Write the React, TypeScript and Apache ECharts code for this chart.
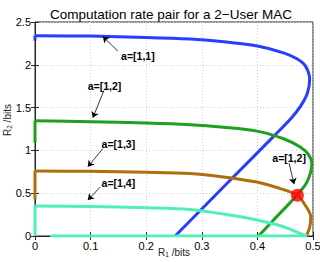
import React, { useEffect, useRef } from "react";
import * as echarts from "echarts";

// Curve a=[1,1] (blue)
const blueStubR1 = [0, 0];
const blueStubR2 = [2.28, 2.34];
const blueR1 = [0, 0.1, 0.2, 0.28, 0.34, 0.4, 0.447, 0.471, 0.486, 0.494, 0.49, 0.478, 0.46, 0.43, 0.35, 0.252];
const blueR2 = [2.34, 2.335, 2.32, 2.3, 2.27, 2.22, 2.14, 2.07, 1.99, 1.83, 1.67, 1.52, 1.37, 1.17, 0.645, 0];

// Curve a=[1,2] (green)
const greenStubR1 = [0, 0];
const greenStubR2 = [1.09, 1.345];
const greenR1 = [0, 0.1, 0.2, 0.279, 0.339, 0.399, 0.447, 0.477, 0.492, 0.498, 0.489, 0.471, 0.429, 0.402];
const greenR2 = [1.345, 1.335, 1.32, 1.3, 1.27, 1.225, 1.136, 1.04, 0.95, 0.845, 0.63, 0.477, 0.186, 0];

// Curve a=[1,3] (brown)
const brownStubR1 = [0, 0];
const brownStubR2 = [0.43, 0.76];
const brownR1 = [0, 0.1, 0.2, 0.279, 0.339, 0.399, 0.435, 0.472, 0.486, 0.496, 0.494, 0.488];
const brownR2 = [0.76, 0.755, 0.745, 0.73, 0.69, 0.63, 0.566, 0.477, 0.36, 0.225, 0.1, 0];

// Curve a=[1,4] (aquamarine)
const aquaStubR1 = [0, 0];
const aquaStubR2 = [0, 0.35];
const aquaR1 = [0, 0.1, 0.2, 0.279, 0.339, 0.399, 0.447, 0.477, 0.489];
const aquaR2 = [0.35, 0.345, 0.33, 0.31, 0.256, 0.186, 0.108, 0.03, 0];
const aquaBaseR1 = [0.027, 0.489];
const aquaBaseR2 = [0, 0];

// Highlighted point
const pointR1 = [0.472];
const pointR2 = [0.477];

// Annotations
const annoTexts = ["a=[1,1]", "a=[1,2]", "a=[1,3]", "a=[1,4]", "a=[1,2]"];
const annoTextR1 = [0.185, 0.125, 0.15, 0.15, 0.457];
const annoTextR2 = [2.1, 1.756, 1.08, 0.616, 0.913];
const arrowFromR1 = [0.149, 0.124, 0.122, 0.117, 0.457];
const arrowFromR2 = [2.16, 1.7, 1.02, 0.57, 0.85];
const arrowToR1 = [0.122, 0.104, 0.095, 0.095, 0.466];
const arrowToR2 = [2.33, 1.38, 0.81, 0.42, 0.605];

const xTicks = { min: 0, max: 0.5, interval: 0.1 };
const yTicks = { min: 0, max: 2.5, interval: 0.5 };

const pairs = (a: number[], b: number[]) => a.map((v, i) => [v, b[i]]);

const FONT = "'Liberation Sans', Arial, Helvetica, sans-serif";

export default function App() {
  const ref = useRef<HTMLDivElement>(null);
  useEffect(() => {
    if (!ref.current) return;
    const chart = echarts.init(ref.current, undefined, { renderer: "svg" });
    const axisLine = { show: true, lineStyle: { color: "#262626", width: 1 } };
    const tick = { show: true, inside: true, length: 4, lineStyle: { color: "#262626" } };
    const split = { show: true, lineStyle: { color: "#d0d0d0", type: [1, 2] as any, width: 1 } };
    const label = { fontFamily: FONT, fontSize: 11, color: "#000", margin: 4 };
    const curve = (data: number[][], color: string, smooth: number | boolean) => ({
      type: "line",
      data,
      smooth,
      symbol: "none",
      lineStyle: { color, width: 3 },
      itemStyle: { color },
      silent: true,
      z: 2,
    });
    const blue = "#2a3cff";
    const green = "#1f9e1f";
    const brown = "#ad6f0c";
    const aqua = "#50f0b4";
    const nameStyle = (padding: number[]) => ({
      fontFamily: FONT,
      fontSize: 10,
      lineHeight: 12,
      color: "#222",
      padding,
      rich: {
        sub: { fontFamily: FONT, fontSize: 6.5, lineHeight: 6, verticalAlign: "bottom", color: "#222" },
      },
    });
    chart.setOption({
      animation: false,
      title: {
        text: "Computation rate pair for a 2\u2212User MAC",
        left: 166,
        textAlign: "center",
        top: 2,
        textStyle: { fontFamily: FONT, fontSize: 13.5, fontWeight: "normal", color: "#000" },
      },
      grid: {
        left: 35,
        right: 7,
        top: 22,
        bottom: 26,
        show: true,
        borderColor: "#262626",
        borderWidth: 1,
        containLabel: false,
        outerBoundsMode: "none",
      },
      xAxis: [
        {
          type: "value",
          ...xTicks,
          axisLine,
          axisTick: tick,
          splitLine: split,
          axisLabel: label,
          name: "R{sub|1} /bits",
          nameLocation: "middle",
          nameGap: 10,
          nameMoveOverlap: false,
          nameTextStyle: nameStyle([0, 0, 0, 0]),
        },
        {
          type: "value",
          position: "top",
          ...xTicks,
          axisLine,
          axisTick: tick,
          splitLine: { show: false },
          axisLabel: { show: false },
        },
      ],
      yAxis: [
        {
          type: "value",
          ...yTicks,
          axisLine,
          axisTick: tick,
          splitLine: split,
          axisLabel: label,
          name: "R{sub|2} /bits",
          nameLocation: "middle",
          nameGap: 22,
          nameMoveOverlap: false,
          nameTextStyle: nameStyle([0, 0, 0, 18]),
        },
        {
          type: "value",
          position: "right",
          ...yTicks,
          axisLine,
          axisTick: tick,
          splitLine: { show: false },
          axisLabel: { show: false },
        },
      ],
      series: [
        curve(pairs(blueStubR1, blueStubR2), blue, false),
        curve(pairs(blueR1, blueR2), blue, 0.3),
        curve(pairs(greenStubR1, greenStubR2), green, false),
        curve(pairs(greenR1, greenR2), green, 0.3),
        curve(pairs(brownStubR1, brownStubR2), brown, false),
        curve(pairs(brownR1, brownR2), brown, 0.3),
        curve(pairs(aquaStubR1, aquaStubR2), aqua, false),
        curve(pairs(aquaR1, aquaR2), aqua, 0.3),
        curve(pairs(aquaBaseR1, aquaBaseR2), aqua, false),
        {
          type: "scatter",
          data: pairs(pointR1, pointR2),
          symbol: "circle",
          symbolSize: 13,
          itemStyle: { color: "#ff0000" },
          silent: true,
          z: 5,
          markLine: {
            silent: true,
            symbol: ["none", "arrow"],
            symbolSize: 6,
            label: { show: false },
            lineStyle: { color: "#000", width: 0.8, type: "solid" },
            data: arrowFromR1.map((_, i) => [
              { coord: [arrowFromR1[i], arrowFromR2[i]] },
              { coord: [arrowToR1[i], arrowToR2[i]] },
            ]),
          },
          markPoint: {
            silent: true,
            symbol: "rect",
            symbolSize: 1,
            itemStyle: { color: "rgba(0,0,0,0)" },
            label: {
              show: true,
              position: "inside",
              formatter: "{b}",
              fontFamily: FONT,
              fontSize: 10.5,
              fontWeight: "bold",
              color: "#000",
            },
            data: annoTexts.map((t, i) => ({ name: t, coord: [annoTextR1[i], annoTextR2[i]] })),
          },
        },
      ],
    });
    return () => chart.dispose();
  }, []);
  return <div ref={ref} style={{ width: 320, height: 262, position: "absolute", left: 0, top: 0 }} />;
}
